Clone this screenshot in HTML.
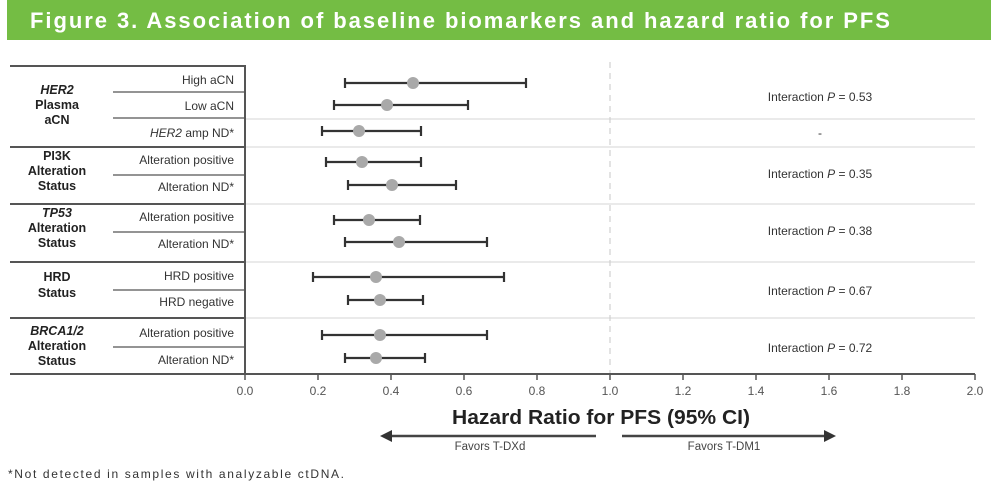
<!DOCTYPE html>
<html><head><meta charset="utf-8"><style>
body{margin:0;background:#fff;width:997px;height:487px;overflow:hidden;font-family:"Liberation Sans",Arial,sans-serif}
</style></head><body>
<svg width="997" height="487" viewBox="0 0 997 487" xmlns="http://www.w3.org/2000/svg" font-family="Liberation Sans, Arial, sans-serif">
<rect x="7" y="0" width="984" height="40" fill="#74bd44"/>
<text x="30" y="28" font-size="22" font-weight="bold" fill="#fff" textLength="860" lengthAdjust="spacing">Figure 3. Association of baseline biomarkers and hazard ratio for PFS</text>
<g stroke="#e3e3e3" stroke-width="1.5">
<line x1="245" y1="119" x2="975" y2="119"/><line x1="245" y1="147" x2="975" y2="147"/>
<line x1="245" y1="204" x2="975" y2="204"/><line x1="245" y1="262" x2="975" y2="262"/>
<line x1="245" y1="318" x2="975" y2="318"/>
</g>
<line x1="610" y1="62" x2="610" y2="374" stroke="#d0d0d0" stroke-width="1.2" stroke-dasharray="6,5"/>
<g stroke="#555" stroke-width="2">
<line x1="10" y1="66" x2="246" y2="66"/>
<line x1="245" y1="66" x2="245" y2="374"/>
<line x1="10" y1="147" x2="245" y2="147"/><line x1="10" y1="204" x2="245" y2="204"/>
<line x1="10" y1="262" x2="245" y2="262"/><line x1="10" y1="318" x2="245" y2="318"/>
<line x1="10" y1="374" x2="975" y2="374"/>
</g>
<g stroke="#555" stroke-width="1.3">
<line x1="113" y1="92" x2="245" y2="92"/><line x1="113" y1="118" x2="245" y2="118"/>
<line x1="113" y1="175" x2="245" y2="175"/><line x1="113" y1="232" x2="245" y2="232"/>
<line x1="113" y1="290" x2="245" y2="290"/><line x1="113" y1="347" x2="245" y2="347"/>
</g>
<g font-size="12.5" font-weight="bold" fill="#222" text-anchor="middle">
<text x="57" y="94" font-style="italic">HER2</text><text x="57" y="109">Plasma</text><text x="57" y="124">aCN</text>
<text x="57" y="160">PI3K</text><text x="57" y="175">Alteration</text><text x="57" y="190">Status</text>
<text x="57" y="217" font-style="italic">TP53</text><text x="57" y="232">Alteration</text><text x="57" y="247">Status</text>
<text x="57" y="281">HRD</text><text x="57" y="297">Status</text>
<text x="57" y="335" font-style="italic">BRCA1/2</text><text x="57" y="350">Alteration</text><text x="57" y="365">Status</text>
</g>
<g font-size="12" fill="#333" text-anchor="end">
<text x="234" y="84">High aCN</text><text x="234" y="110">Low aCN</text>
<text x="234" y="137"><tspan font-style="italic">HER2</tspan> amp ND*</text>
<text x="234" y="164">Alteration positive</text><text x="234" y="191">Alteration ND*</text>
<text x="234" y="221">Alteration positive</text><text x="234" y="248">Alteration ND*</text>
<text x="234" y="280">HRD positive</text><text x="234" y="306">HRD negative</text>
<text x="234" y="337">Alteration positive</text><text x="234" y="364">Alteration ND*</text>
</g>
<g stroke="#333" stroke-width="2.2">
<line x1="345" y1="83" x2="526" y2="83"/><line x1="345" y1="78" x2="345" y2="88"/><line x1="526" y1="78" x2="526" y2="88"/>
<line x1="334" y1="105" x2="468" y2="105"/><line x1="334" y1="100" x2="334" y2="110"/><line x1="468" y1="100" x2="468" y2="110"/>
<line x1="322" y1="131" x2="421" y2="131"/><line x1="322" y1="126" x2="322" y2="136"/><line x1="421" y1="126" x2="421" y2="136"/>
<line x1="326" y1="162" x2="421" y2="162"/><line x1="326" y1="157" x2="326" y2="167"/><line x1="421" y1="157" x2="421" y2="167"/>
<line x1="348" y1="185" x2="456" y2="185"/><line x1="348" y1="180" x2="348" y2="190"/><line x1="456" y1="180" x2="456" y2="190"/>
<line x1="334" y1="220" x2="420" y2="220"/><line x1="334" y1="215" x2="334" y2="225"/><line x1="420" y1="215" x2="420" y2="225"/>
<line x1="345" y1="242" x2="487" y2="242"/><line x1="345" y1="237" x2="345" y2="247"/><line x1="487" y1="237" x2="487" y2="247"/>
<line x1="313" y1="277" x2="504" y2="277"/><line x1="313" y1="272" x2="313" y2="282"/><line x1="504" y1="272" x2="504" y2="282"/>
<line x1="348" y1="300" x2="423" y2="300"/><line x1="348" y1="295" x2="348" y2="305"/><line x1="423" y1="295" x2="423" y2="305"/>
<line x1="322" y1="335" x2="487" y2="335"/><line x1="322" y1="330" x2="322" y2="340"/><line x1="487" y1="330" x2="487" y2="340"/>
<line x1="345" y1="358" x2="425" y2="358"/><line x1="345" y1="353" x2="345" y2="363"/><line x1="425" y1="353" x2="425" y2="363"/>
</g>
<g fill="#a9a9a9">
<circle cx="413" cy="83" r="6"/><circle cx="387" cy="105" r="6"/><circle cx="359" cy="131" r="6"/>
<circle cx="362" cy="162" r="6"/><circle cx="392" cy="185" r="6"/><circle cx="369" cy="220" r="6"/>
<circle cx="399" cy="242" r="6"/><circle cx="376" cy="277" r="6"/><circle cx="380" cy="300" r="6"/>
<circle cx="380" cy="335" r="6"/><circle cx="376" cy="358" r="6"/>
</g>
<g font-size="12" fill="#333" text-anchor="middle">
<text x="820" y="101">Interaction <tspan font-style="italic">P</tspan> = 0.53</text>
<text x="820" y="137">-</text>
<text x="820" y="178">Interaction <tspan font-style="italic">P</tspan> = 0.35</text>
<text x="820" y="235">Interaction <tspan font-style="italic">P</tspan> = 0.38</text>
<text x="820" y="295">Interaction <tspan font-style="italic">P</tspan> = 0.67</text>
<text x="820" y="352">Interaction <tspan font-style="italic">P</tspan> = 0.72</text>
</g>
<g stroke="#555" stroke-width="1.5">
<line x1="245" y1="374" x2="245" y2="380"/><line x1="318" y1="374" x2="318" y2="380"/><line x1="391" y1="374" x2="391" y2="380"/>
<line x1="464" y1="374" x2="464" y2="380"/><line x1="537" y1="374" x2="537" y2="380"/><line x1="610" y1="374" x2="610" y2="380"/>
<line x1="683" y1="374" x2="683" y2="380"/><line x1="756" y1="374" x2="756" y2="380"/><line x1="829" y1="374" x2="829" y2="380"/>
<line x1="902" y1="374" x2="902" y2="380"/><line x1="975" y1="374" x2="975" y2="380"/>
</g>
<g font-size="12" fill="#555" text-anchor="middle">
<text x="245" y="395">0.0</text><text x="318" y="395">0.2</text><text x="391" y="395">0.4</text><text x="464" y="395">0.6</text>
<text x="537" y="395">0.8</text><text x="610" y="395">1.0</text><text x="683" y="395">1.2</text><text x="756" y="395">1.4</text>
<text x="829" y="395">1.6</text><text x="902" y="395">1.8</text><text x="975" y="395">2.0</text>
</g>
<text x="452" y="424" font-size="20" font-weight="bold" fill="#222" textLength="298" lengthAdjust="spacingAndGlyphs">Hazard Ratio for PFS (95% CI)</text>
<g stroke="#444" stroke-width="2.5"><line x1="390" y1="436" x2="596" y2="436"/><line x1="622" y1="436" x2="826" y2="436"/></g>
<polygon points="380,436 392,430 392,442" fill="#333"/><polygon points="836,436 824,430 824,442" fill="#333"/>
<g font-size="11.5" fill="#444" text-anchor="middle"><text x="490" y="450">Favors T-DXd</text><text x="724" y="450">Favors T-DM1</text></g>
<text x="8" y="478" font-size="12" fill="#333" textLength="336" lengthAdjust="spacing">*Not detected in samples with analyzable ctDNA.</text>
</svg>
</body></html>
